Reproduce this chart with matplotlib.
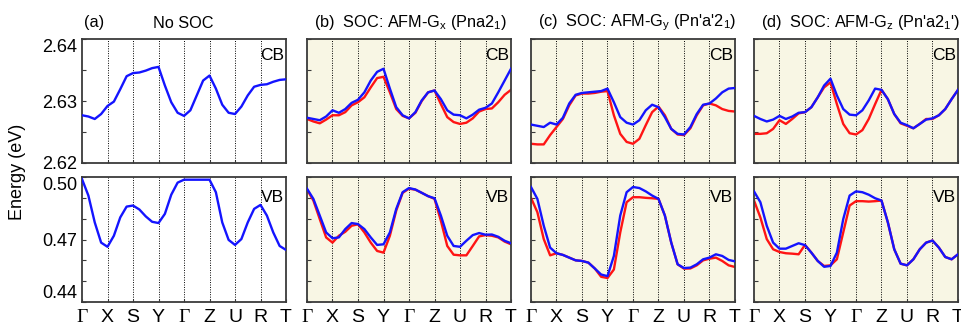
import numpy as np
import matplotlib
matplotlib.use('Agg')
import matplotlib.pyplot as plt

plt.rcParams['font.family'] = ['Liberation Sans', 'DejaVu Sans']

# caminho de pontos k (quartos de segmento)
kpts = ['Γ', 'X', 'S', 'Y', 'Γ', 'Z', 'U', 'R', 'T']
k = np.arange(33) * 0.25

# (a) sem SOC
cb_a = [2.6277, 2.6275, 2.6271, 2.6279, 2.6292, 2.6299, 2.6319, 2.6340, 2.6345,
        2.6346, 2.6349, 2.6353, 2.6355, 2.6325, 2.6298, 2.6281, 2.6276, 2.6285,
        2.6309, 2.6333, 2.6341, 2.6320, 2.6294, 2.6281, 2.6279, 2.6291, 2.6309,
        2.6323, 2.6326, 2.6327, 2.6331, 2.6334, 2.6335]
vb_a = [0.4990, 0.4911, 0.4782, 0.4685, 0.4665, 0.4718, 0.4806, 0.4858, 0.4863,
        0.4844, 0.4811, 0.4785, 0.4779, 0.4823, 0.4915, 0.4973, 0.4987, 0.4987,
        0.4987, 0.4987, 0.4987, 0.4927, 0.4782, 0.4698, 0.4674, 0.4702, 0.4782,
        0.4847, 0.4866, 0.4815, 0.4734, 0.4669, 0.4650]

# (b) AFM-Gx
cb_b_azul = [2.6273, 2.6271, 2.6269, 2.6275, 2.6285, 2.6281, 2.6287, 2.6297, 2.6302,
             2.6314, 2.6333, 2.6347, 2.6352, 2.6320, 2.6290, 2.6277, 2.6272, 2.6282,
             2.6301, 2.6314, 2.6317, 2.6303, 2.6285, 2.6278, 2.6277, 2.6272, 2.6278,
             2.6286, 2.6289, 2.6296, 2.6314, 2.6333, 2.6352]
cb_b_verm = [2.6271, 2.6267, 2.6264, 2.6270, 2.6277, 2.6277, 2.6282, 2.6293, 2.6298,
             2.6306, 2.6322, 2.6337, 2.6339, 2.6314, 2.6287, 2.6276, 2.6272, 2.6281,
             2.6300, 2.6314, 2.6317, 2.6295, 2.6274, 2.6266, 2.6263, 2.6265, 2.6272,
             2.6283, 2.6287, 2.6288, 2.6298, 2.6310, 2.6318]
vb_b_azul = [0.4944, 0.4895, 0.4815, 0.4734, 0.4706, 0.4710, 0.4750, 0.4779, 0.4774,
             0.4750, 0.4710, 0.4674, 0.4677, 0.4734, 0.4847, 0.4927, 0.4947, 0.4940,
             0.4924, 0.4908, 0.4898, 0.4815, 0.4718, 0.4669, 0.4665, 0.4694, 0.4721,
             0.4731, 0.4723, 0.4724, 0.4713, 0.4694, 0.4682]
vb_b_verm = [0.4940, 0.4887, 0.4798, 0.4710, 0.4685, 0.4718, 0.4737, 0.4766, 0.4773,
             0.4734, 0.4685, 0.4645, 0.4637, 0.4718, 0.4839, 0.4924, 0.4944, 0.4939,
             0.4924, 0.4908, 0.4895, 0.4790, 0.4669, 0.4627, 0.4624, 0.4624, 0.4669,
             0.4715, 0.4721, 0.4718, 0.4710, 0.4690, 0.4677]

# (c) AFM-Gy
cb_c_azul = [2.6262, 2.6260, 2.6258, 2.6265, 2.6262, 2.6273, 2.6296, 2.6310, 2.6313,
             2.6314, 2.6315, 2.6316, 2.6320, 2.6298, 2.6274, 2.6265, 2.6262, 2.6269,
             2.6285, 2.6294, 2.6290, 2.6274, 2.6255, 2.6247, 2.6246, 2.6258, 2.6279,
             2.6294, 2.6296, 2.6304, 2.6314, 2.6320, 2.6321]
cb_c_verm = [2.6231, 2.6230, 2.6230, 2.6245, 2.6258, 2.6271, 2.6293, 2.6309, 2.6312,
             2.6312, 2.6313, 2.6315, 2.6316, 2.6277, 2.6247, 2.6234, 2.6231, 2.6239,
             2.6261, 2.6282, 2.6291, 2.6277, 2.6255, 2.6246, 2.6245, 2.6256, 2.6277,
             2.6293, 2.6296, 2.6293, 2.6287, 2.6284, 2.6283]
vb_c_azul = [0.4952, 0.4895, 0.4766, 0.4661, 0.4634, 0.4626, 0.4613, 0.4600, 0.4597,
             0.4589, 0.4561, 0.4532, 0.4524, 0.4621, 0.4815, 0.4927, 0.4952, 0.4947,
             0.4931, 0.4911, 0.4895, 0.4815, 0.4685, 0.4581, 0.4563, 0.4565, 0.4581,
             0.4605, 0.4613, 0.4629, 0.4621, 0.4602, 0.4595]
vb_c_verm = [0.4900, 0.4831, 0.4702, 0.4624, 0.4634, 0.4626, 0.4613, 0.4600, 0.4597,
             0.4589, 0.4561, 0.4521, 0.4515, 0.4556, 0.4734, 0.4879, 0.4903, 0.4903,
             0.4900, 0.4898, 0.4895, 0.4815, 0.4685, 0.4581, 0.4560, 0.4561, 0.4576,
             0.4600, 0.4608, 0.4613, 0.4597, 0.4576, 0.4568]

# (d) AFM-Gz
cb_d_azul = [2.6276, 2.6271, 2.6267, 2.6270, 2.6276, 2.6271, 2.6275, 2.6281, 2.6282,
             2.6290, 2.6306, 2.6325, 2.6336, 2.6309, 2.6287, 2.6278, 2.6277, 2.6285,
             2.6301, 2.6320, 2.6318, 2.6303, 2.6279, 2.6265, 2.6261, 2.6256, 2.6263,
             2.6270, 2.6272, 2.6277, 2.6287, 2.6303, 2.6318]
cb_d_verm = [2.6247, 2.6247, 2.6248, 2.6255, 2.6269, 2.6263, 2.6271, 2.6280, 2.6282,
             2.6290, 2.6306, 2.6322, 2.6330, 2.6295, 2.6263, 2.6248, 2.6246, 2.6253,
             2.6271, 2.6295, 2.6318, 2.6303, 2.6279, 2.6264, 2.6260, 2.6256, 2.6263,
             2.6271, 2.6271, 2.6277, 2.6287, 2.6303, 2.6318]
vb_d_azul = [0.4931, 0.4879, 0.4766, 0.4685, 0.4656, 0.4656, 0.4669, 0.4682, 0.4673,
             0.4637, 0.4597, 0.4569, 0.4573, 0.4637, 0.4798, 0.4911, 0.4931, 0.4927,
             0.4915, 0.4898, 0.4887, 0.4782, 0.4653, 0.4584, 0.4576, 0.4605, 0.4653,
             0.4685, 0.4695, 0.4661, 0.4616, 0.4605, 0.4629]
vb_d_verm = [0.4887, 0.4806, 0.4702, 0.4653, 0.4640, 0.4634, 0.4632, 0.4629, 0.4674,
             0.4637, 0.4597, 0.4573, 0.4576, 0.4605, 0.4734, 0.4863, 0.4884, 0.4884,
             0.4882, 0.4884, 0.4887, 0.4782, 0.4653, 0.4584, 0.4576, 0.4605, 0.4653,
             0.4685, 0.4695, 0.4661, 0.4616, 0.4605, 0.4629]

titulos = ['No SOC',
           'SOC: AFM-G$_\\mathregular{x}$ (Pna2$_\\mathregular{1}$)',
           "SOC: AFM-G$_\\mathregular{y}$ (Pn'a'2$_\\mathregular{1}$)",
           "SOC: AFM-G$_\\mathregular{z}$ (Pn'a2$_\\mathregular{1}$')"]
letras = ['(a)', '(b)', '(c)', '(d)']

paineis_cb = [[cb_a], [cb_b_verm, cb_b_azul], [cb_c_verm, cb_c_azul], [cb_d_verm, cb_d_azul]]
paineis_vb = [[vb_a], [vb_b_verm, vb_b_azul], [vb_c_verm, vb_c_azul], [vb_d_verm, vb_d_azul]]

azul = '#1414ff'
verm = '#ff1414'
fundo = '#f8f6e4'
moldura = '#3a3a3a'

W, H = 962, 326
fig = plt.figure(figsize=(W/100, H/100), dpi=100)

esquerdas = [82, 307, 531, 754]
larg = 204

for i in range(4):
    x0 = esquerdas[i] / W
    ax_cb = fig.add_axes([x0, 1 - 163/H, larg/W, 124/H])
    ax_vb = fig.add_axes([x0, 1 - 302/H, larg/W, 125/H])

    for ax, curvas, nome in [(ax_cb, paineis_cb[i], 'CB'), (ax_vb, paineis_vb[i], 'VB')]:
        if i > 0:
            ax.set_facecolor(fundo)
        for kk in range(1, 8):
            ax.axvline(kk, color='black', linestyle=(0, (1, 1.5)), linewidth=0.7, zorder=1)
        if len(curvas) == 1:
            ax.plot(k, curvas[0], color=azul, linewidth=1.7, zorder=3)
        else:
            ax.plot(k, curvas[0], color=verm, linewidth=1.7, zorder=2)
            ax.plot(k, curvas[1], color=azul, linewidth=1.7, zorder=3)
        ax.set_xlim(0, 8)
        ax.set_xticks(range(9))
        ax.tick_params(axis='both', direction='in', length=3, width=0.8, color=moldura,
                       labelsize=13)
        ax.tick_params(axis='x', length=2)
        for s in ax.spines.values():
            s.set_color(moldura)
            s.set_linewidth(1.3)
        ax.text(0.99, 0.93 if nome == 'CB' else 0.90, nome, transform=ax.transAxes,
                ha='right', va='top', fontsize=12.5)

    ax_cb.set_ylim(2.62, 2.64)
    ax_cb.set_yticks([2.62, 2.625, 2.63, 2.635, 2.64])
    ax_vb.set_ylim(0.44, 0.50)
    ax_vb.set_yticks([0.44, 0.45, 0.46, 0.47, 0.48, 0.49, 0.50])
    ax_cb.set_xticklabels([])
    if i == 0:
        ax_cb.set_yticklabels(['2.62', '', '2.63', '', '2.64'])
        ax_vb.set_yticklabels(['0.44', '', '', '0.47', '', '', '0.50'])
        ax_cb.get_yticklabels()[-1].set_va('top')
        ax_vb.get_yticklabels()[-1].set_va('top')
        ax_vb.get_yticklabels()[0].set_va('bottom')
    else:
        ax_cb.set_yticklabels([])
        ax_vb.set_yticklabels([])
    ax_vb.set_xticklabels(kpts, fontsize=14)
    for t in ax_vb.get_xticklabels():
        if t.get_text() == 'Γ':
            t.set_fontfamily(['Liberation Serif', 'DejaVu Serif'])
    ax_vb.tick_params(axis='x', pad=5)

    # títulos
    if i == 0:
        fig.text(84/W, 1 - 23/H, letras[i], ha='left', va='center', fontsize=11.7)
        fig.text(183/W, 1 - 23/H, titulos[i], ha='center', va='center', fontsize=11.7)
    else:
        fig.text((esquerdas[i] + 7)/W, 1 - 23/H, letras[i] + '  ' + titulos[i],
                 ha='left', va='center', fontsize=11.7)

fig.text(18/W, 1 - 172/H, 'Energy (eV)', rotation=90, ha='center', va='center', fontsize=13)

plt.savefig('out.png', dpi=100)
plt.close()
